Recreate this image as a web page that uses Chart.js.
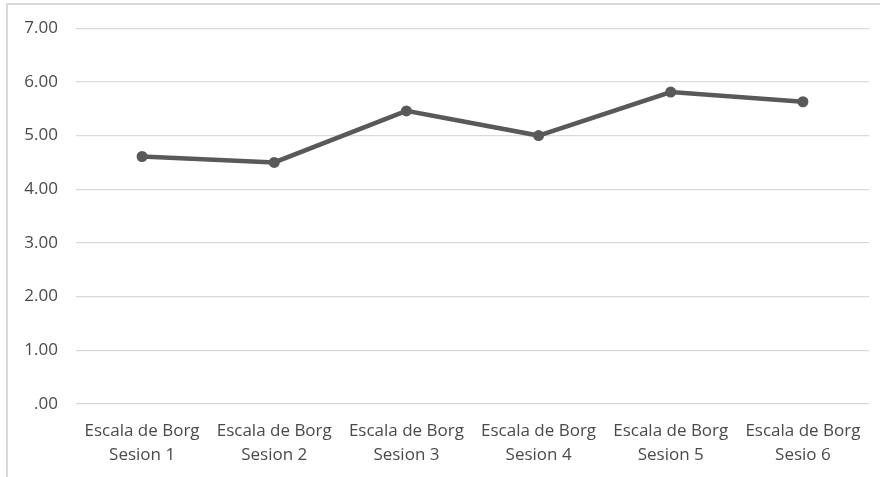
<!DOCTYPE html>
<html>
<head>
<meta charset="utf-8">
<script src="https://cdn.jsdelivr.net/npm/chart.js@4/dist/chart.umd.min.js"></script>
<style>
  html, body { margin: 0; padding: 0; background: #ffffff; }
  #wrap { position: relative; width: 880px; height: 477px; overflow: hidden; }
  #frame { position: absolute; left: 6px; top: 3px; width: 900px; height: 500px;
           border-top: 2px solid #d9d9d9; border-left: 2px solid #d9d9d9; box-sizing: border-box; }
  canvas { position: absolute; left: 0; top: 0; }
</style>
</head>
<body>
<div id="wrap">
  <div id="frame"></div>
  <canvas id="chart" width="880" height="477"></canvas>
</div>
<script>
const sessionLabels = [
  ["Escala de Borg", "Sesion 1"],
  ["Escala de Borg", "Sesion 2"],
  ["Escala de Borg", "Sesion 3"],
  ["Escala de Borg", "Sesion 4"],
  ["Escala de Borg", "Sesion 5"],
  ["Escala de Borg", "Sesio 6"]
];
const borgValues = [4.61, 4.50, 5.46, 5.00, 5.81, 5.63];
const yMin = 0;
const yMax = 7;
const yStep = 1;

const textColor = "#4a4a4a";
const fontFamily = "'Open Sans', Lato, sans-serif";

new Chart(document.getElementById("chart"), {
  type: "line",
  data: {
    labels: sessionLabels,
    datasets: [{
      data: borgValues,
      borderColor: "#595959",
      backgroundColor: "#595959",
      borderWidth: 4.5,
      pointRadius: 5.5,
      pointHoverRadius: 5.5,
      pointBackgroundColor: "#595959",
      pointBorderWidth: 0,
      tension: 0,
      fill: false
    }]
  },
  options: {
    responsive: false,
    animation: false,
    events: [],
    layout: { padding: { top: 28, right: 11, bottom: 0, left: 0 } },
    plugins: { legend: { display: false }, tooltip: { enabled: false } },
    scales: {
      x: {
        offset: true,
        grid: { display: false, drawTicks: false },
        border: { display: false },
        ticks: {
          color: textColor,
          font: { family: fontFamily, size: 17, lineHeight: 1.36 },
          padding: 16,
          maxRotation: 0,
          autoSkip: false
        },
        afterFit: (scale) => { scale.height = 73; }
      },
      y: {
        min: yMin,
        max: yMax,
        grid: { color: "#d9d9d9", lineWidth: 1.3, drawTicks: false },
        border: { display: false },
        ticks: {
          stepSize: yStep,
          color: textColor,
          font: { family: fontFamily, size: 17 },
          padding: 18,
          callback: (v) => v === 0 ? ".00" : v.toFixed(2)
        },
        afterFit: (scale) => { scale.width = 76; }
      }
    }
  }
});
</script>
</body>
</html>
